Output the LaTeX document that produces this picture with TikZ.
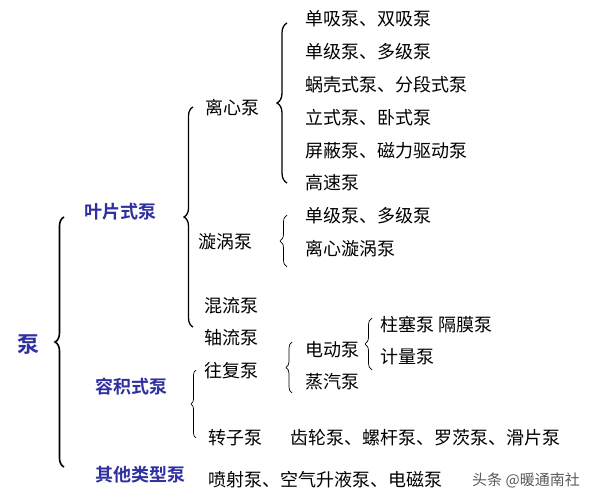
\documentclass[tikz,border=0pt]{standalone}
\usepackage{fontspec}
\setmainfont{Noto Sans CJK SC}
\newfontfamily\cjkbold{Noto Sans CJK SC Bold}
\usepackage{tikz}
\usetikzlibrary{decorations.pathreplacing, positioning}
\definecolor{labelblue}{RGB}{48, 48, 160}
\definecolor{markgray}{RGB}{90, 90, 90}

\begin{document}
\begin{tikzpicture}[
        x=1pt, y=-1pt,
        % --- STYLE ---
        item/.style={anchor=west, inner sep=0pt, font=\fontsize{18}{20}\selectfont},
        classnode/.style={anchor=west, inner sep=0pt, text=labelblue,
            font=\cjkbold\fontsize{18}{20}\selectfont},
        rootnode/.style={anchor=center, inner sep=0pt, text=labelblue,
            font=\cjkbold\fontsize{22}{24}\selectfont},
        bigbrace/.style={decorate, decoration={brace, amplitude=#1}, line width=1.6pt},
        smallbrace/.style={decorate, decoration={brace, amplitude=#1}, line width=0.7pt}
    ]
        \useasboundingbox (0,0) rectangle (597,500);

        % --- 1. GỐC VÀ PHÂN LOẠI ---
        \node[rootnode] (pump) at (28,345) {泵};
        \node[classnode] (vane) at (84,212) {叶片式泵};
        \node[classnode] (volume) at (95,387) {容积式泵};
        \node[classnode] (other) at (95,475) {其他类型泵};

        % --- 2. LOẠI CẤP 2 ---
        \node[item] (centri) at (205,108) {离心泵};
        \node[item] (vortex) at (198,242) {漩涡泵};
        \node[item] (mixed) at (204,306) {混流泵};
        \node[item] (axial) at (204,338) {轴流泵};
        \node[item] (recip) at (204,371) {往复泵};
        \node[item] (rotor) at (208,438) {转子泵};
        \node[item, right=28pt of rotor] (rotorlist) {齿轮泵、螺杆泵、罗茨泵、滑片泵};
        \node[item] (otherlist) at (208,480) {喷射泵、空气升液泵、电磁泵};

        % --- 3. CÁC MỤC CON ---
        \node[item] (c1) at (305,19) {单吸泵、双吸泵};
        \node[item] (c2) at (305,52) {单级泵、多级泵};
        \node[item] (c3) at (305,85) {蜗壳式泵、分段式泵};
        \node[item] (c4) at (305,118) {立式泵、卧式泵};
        \node[item] (c5) at (305,151) {屏蔽泵、磁力驱动泵};
        \node[item] (c6) at (305,183) {高速泵};
        \node[item] (v1) at (305,216) {单级泵、多级泵};
        \node[item] (v2) at (305,249) {离心漩涡泵};
        \node[item] (motor) at (305,350) {电动泵};
        \node[item] (steam) at (305,382) {蒸汽泵};
        \node[item] (plunger) at (380,325) {柱塞泵 隔膜泵};
        \node[item] (meter) at (380,357) {计量泵};

        \node[anchor=west, inner sep=0pt, text=markgray, font=\fontsize{15}{17}\selectfont]
            (mark) at (472,480) {头条 @暖通南社};

        % --- 4. DẤU NGOẶC ---
        \coordinate (pumpA) at (64,467);   \coordinate (pumpB) at (64,217);
        \coordinate (vaneA) at (193,327);  \coordinate (vaneB) at (193,107);
        \coordinate (centA) at (287,183);  \coordinate (centB) at (287,23);
        \coordinate (vortA) at (287,267);  \coordinate (vortB) at (287,215);
        \coordinate (recA) at (292,393);   \coordinate (recB) at (292,342);
        \coordinate (motA) at (372,370);   \coordinate (motB) at (372,318);
        \coordinate (volA) at (196,438);   \coordinate (volB) at (196,370);

        \draw[bigbrace=9pt] (pumpA) -- (pumpB);
        \draw[bigbrace=9pt, line width=1.3pt] (vaneA) -- (vaneB);
        \draw[bigbrace=10pt, line width=1.3pt] (centA) -- (centB);
        \draw[smallbrace=7pt] (vortA) -- (vortB);
        \draw[smallbrace=6pt] (recA) -- (recB);
        \draw[smallbrace=7pt] (motA) -- (motB);
        \draw[smallbrace=5pt] (volA) -- (volB);

    \end{tikzpicture}
\end{document}
